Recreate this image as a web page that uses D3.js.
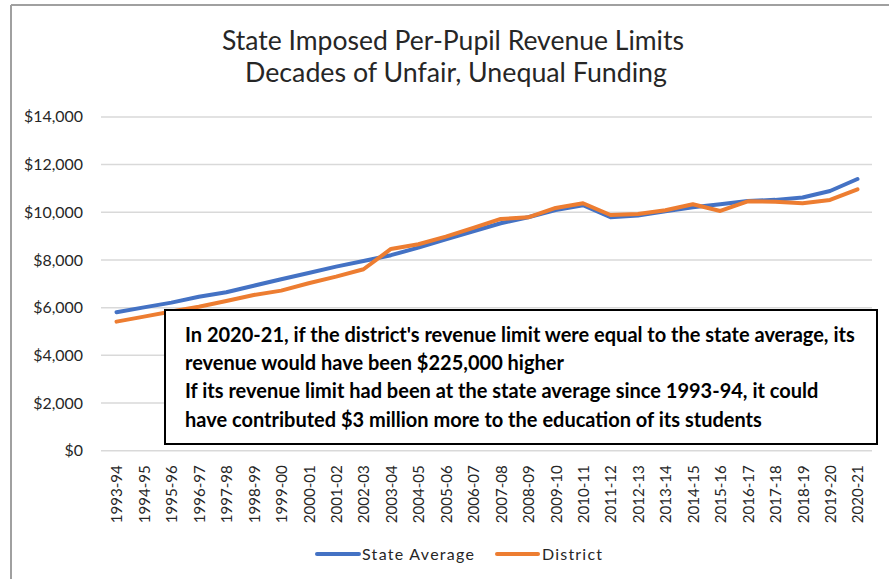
<!DOCTYPE html>
<html>
<head>
<meta charset="utf-8">
<script src="https://cdn.jsdelivr.net/npm/d3@7"></script>
<style>
  html, body { margin: 0; padding: 0; background: #fff; }
  svg { display: block; font-family: Lato, "Open Sans", sans-serif; }
</style>
</head>
<body>
<svg id="chart" width="889" height="579"></svg>
<script>
const categories = ["1993-94","1994-95","1995-96","1996-97","1997-98","1998-99","1999-00","2000-01","2001-02","2002-03","2003-04","2004-05","2005-06","2006-07","2007-08","2008-09","2009-10","2010-11","2011-12","2012-13","2013-14","2014-15","2015-16","2016-17","2017-18","2018-19","2019-20","2020-21"];
const stateAverage = [5807, 6010, 6210, 6460, 6646, 6920, 7190, 7455, 7720, 7958, 8200, 8516, 8868, 9203, 9540, 9790, 10096, 10293, 9790, 9860, 10041, 10210, 10335, 10474, 10520, 10620, 10893, 11396];
const district = [5413, 5622, 5840, 6040, 6281, 6532, 6713, 7023, 7300, 7610, 8461, 8658, 8977, 9342, 9720, 9790, 10180, 10377, 9887, 9929, 10083, 10335, 10054, 10461, 10444, 10377, 10516, 10965];
const yTicks = [0, 2000, 4000, 6000, 8000, 10000, 12000, 14000];
const seriesNames = ["State Average", "District"];
const titleLines = ["State Imposed Per-Pupil Revenue Limits", "Decades of Unfair, Unequal Funding"];
const noteLines = [
  "In 2020-21, if the district's revenue limit were equal to the state average, its",
  "revenue would have been $225,000 higher",
  "If its revenue limit had been at the state average since 1993-94, it could",
  "have contributed $3 million more to the education of its students"
];

const colors = ["#4472C4", "#ED7D31"];
const svg = d3.select("#chart");

function fitWidth(sel, target) {
  const w = sel.node().getComputedTextLength();
  const fs = parseFloat(sel.attr("font-size"));
  sel.attr("font-size", fs * target / w);
  return fs * target / w;
}

// outer frame (top + left edges visible)
svg.append("line").attr("x1", 11).attr("x2", 889).attr("y1", 5).attr("y2", 5)
  .attr("stroke", "#a0a0a0").attr("stroke-width", 2);
svg.append("line").attr("x1", 11).attr("x2", 11).attr("y1", 5).attr("y2", 579)
  .attr("stroke", "#a0a0a0").attr("stroke-width", 2);

// title
const t1 = svg.append("text").attr("x", 453).attr("y", 50).attr("text-anchor", "middle")
  .attr("font-size", 24).attr("fill", "#262626").text(titleLines[0]);
fitWidth(t1, 462);
const t2 = svg.append("text").attr("x", 456).attr("y", 82).attr("text-anchor", "middle")
  .attr("font-size", 24).attr("fill", "#262626").text(titleLines[1]);
fitWidth(t2, 422);

// scales
const x = d3.scalePoint().domain(categories).range([102.8, 871.2]).padding(0.5);
const y = d3.scaleLinear().domain([0, 14000]).range([450.7, 116.9]);

// gridlines
svg.append("g").selectAll("line").data(yTicks).join("line")
  .attr("x1", 101).attr("x2", 872)
  .attr("y1", d => y(d)).attr("y2", d => y(d))
  .attr("stroke", "#d9d9d9").attr("stroke-width", 1.5);

// y axis
const yAxis = svg.append("g").attr("transform", "translate(83,0)")
  .call(d3.axisLeft(y).tickValues(yTicks).tickFormat(d3.format("$,")).tickSize(0).tickPadding(0));
yAxis.select(".domain").remove();
yAxis.selectAll("text").attr("font-size", 17).attr("fill", "#262626")
  .attr("font-family", "Lato, sans-serif");
{
  const s = yAxis.selectAll("text").filter(d => d === 14000);
  const fs = fitWidth(s, 59);
  yAxis.selectAll("text").attr("font-size", fs);
}

// x axis
const xAxis = svg.append("g").attr("transform", `translate(0,${y(0)})`)
  .call(d3.axisBottom(x).tickSize(0));
xAxis.select(".domain").remove();
xAxis.selectAll("text")
  .attr("font-size", 17).attr("fill", "#262626").attr("font-family", "Lato, sans-serif")
  .attr("transform", "rotate(-90)")
  .attr("x", -14.5).attr("y", 0).attr("dy", "0.36em")
  .style("text-anchor", "end");
{
  const s = xAxis.selectAll("text").filter(d => d === "2000-01");
  const fs = fitWidth(s, 58);
  xAxis.selectAll("text").attr("font-size", fs);
}

// lines
const line = d3.line().x((d, i) => x(categories[i])).y(d => y(d));
[stateAverage, district].forEach((series, k) => {
  svg.append("path").datum(series)
    .attr("d", line).attr("fill", "none")
    .attr("stroke", colors[k]).attr("stroke-width", 4)
    .attr("stroke-linejoin", "round").attr("stroke-linecap", "round");
});

// annotation box
svg.append("rect").attr("x", 165).attr("y", 310).attr("width", 712).attr("height", 134)
  .attr("fill", "#fff").attr("stroke", "#000").attr("stroke-width", 2);
const noteY = [341.7, 370, 398.3, 426.7];
const notes = noteLines.map((s, i) => svg.append("text")
  .attr("x", 185).attr("y", noteY[i]).attr("font-size", 17).attr("font-weight", "bold")
  .attr("fill", "#000").text(s));
{
  const fs = fitWidth(notes[0], 670);
  notes.forEach(n => n.attr("font-size", fs));
}

// legend
const legendItems = [
  { name: seriesNames[0], color: colors[0], x1: 317, x2: 359, tx: 362, tw: 112 },
  { name: seriesNames[1], color: colors[1], x1: 497, x2: 538, tx: 542, tw: 60 }
];
legendItems.forEach(it => {
  svg.append("line").attr("x1", it.x1).attr("x2", it.x2).attr("y1", 554).attr("y2", 554)
    .attr("stroke", it.color).attr("stroke-width", 4).attr("stroke-linecap", "round");
  const t = svg.append("text").attr("x", it.tx).attr("y", 560).attr("font-size", 16)
    .attr("fill", "#262626").attr("textLength", it.tw).attr("lengthAdjust", "spacing").text(it.name);
});
</script>
</body>
</html>
